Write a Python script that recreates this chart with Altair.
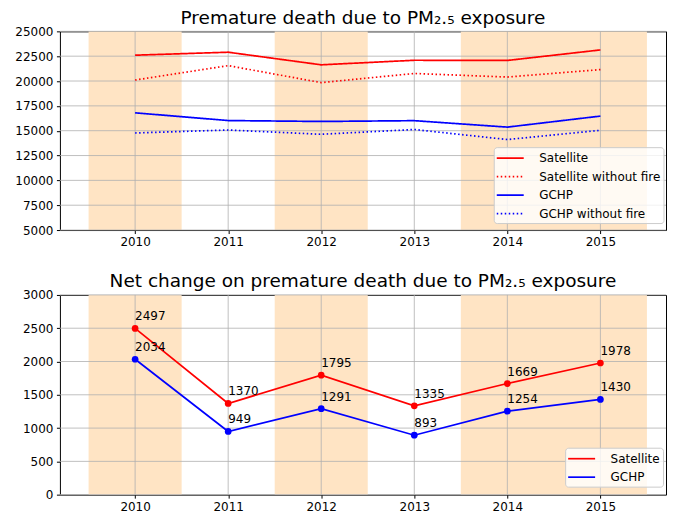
import altair as alt
import pandas as pd

years = [2010, 2011, 2012, 2013, 2014, 2015]
satellite = [22600, 22900, 21630, 22090, 22070, 23130]
satellite_nofire = [20100, 21550, 19840, 20760, 20400, 21150]
gchp = [16800, 16020, 15930, 16010, 15360, 16470]
gchp_nofire = [14770, 15070, 14640, 15120, 14110, 15040]
net_satellite = [2497, 1370, 1795, 1335, 1669, 1978]
net_gchp = [2034, 949, 1291, 893, 1254, 1430]

band_start = [2009.5, 2011.5, 2013.5]
band_end = [2010.5, 2012.5, 2015.5]

top_yticks = [5000, 7500, 10000, 12500, 15000, 17500, 20000, 22500, 25000]
bottom_yticks = [0, 500, 1000, 1500, 2000, 2500, 3000]

top_series = ["Satellite", "Satellite without fire", "GCHP", "GCHP without fire"]
top_colors = ["#ff0000", "#ff0000", "#0000ff", "#0000ff"]
top_dashes = [[1, 0], [1.5, 2.5], [1, 0], [1.5, 2.5]]
bottom_series = ["Satellite", "GCHP"]
bottom_colors = ["#ff0000", "#0000ff"]

FONT = "DejaVu Sans"
W = 607

top_df = pd.DataFrame({
    "year": years * 4,
    "value": satellite + satellite_nofire + gchp + gchp_nofire,
    "series": sum([[s] * len(years) for s in top_series], []),
})
bottom_df = pd.DataFrame({
    "year": years * 2,
    "value": net_satellite + net_gchp,
    "series": sum([[s] * len(years) for s in bottom_series], []),
})
band_df = pd.DataFrame({"start": band_start, "end": band_end})
xtick_df = pd.DataFrame({"v": years})

xscale = alt.Scale(domain=[2009.192, 2015.705], nice=False, zero=False)
xaxis = alt.Axis(values=years, format="d", grid=False, domain=False,
                 tickColor="black", tickSize=3.5, labelPadding=3,
                 labelFontSize=12, labelFont=FONT, labelColor="black",
                 labelFlush=False)


def yaxis(ticks):
    return alt.Axis(values=ticks, format="d", grid=False, domain=False,
                    tickColor="black", tickSize=3.5, labelPadding=3.5,
                    labelFontSize=12, labelFont=FONT, labelColor="black",
                    minExtent=51, maxExtent=51)


def legend(lx, ly):
    return alt.Legend(title=None, orient="none", legendX=lx, legendY=ly,
                      fillColor="rgba(255,255,255,0.8)", strokeColor="#cccccc",
                      cornerRadius=3, padding=3, labelFontSize=12, labelFont=FONT,
                      labelColor="black", symbolType="M-2,0H2", symbolSize=182.25,
                      symbolStrokeWidth=1.7, symbolOffset=5.5, labelOffset=21,
                      rowPadding=4.5, labelLimit=300)


def panel(df, ydomain, yticks, series, colors, dashes, title, points, H, lx, ly):
    X = alt.X("year:Q", scale=xscale, axis=xaxis, title=None)
    Y = alt.Y("value:Q", scale=alt.Scale(domain=ydomain, nice=False, zero=False),
              axis=yaxis(yticks), title=None)
    bands = alt.Chart(band_df).mark_rect(color="#ffe4c4").encode(
        x=alt.X("start:Q", scale=xscale, axis=xaxis, title=None), x2="end:Q")
    xgrid = alt.Chart(xtick_df).mark_rule(color="#b0b0b0", strokeWidth=0.8).encode(
        x=alt.X("v:Q", scale=xscale, axis=xaxis, title=None))
    ygrid = alt.Chart(pd.DataFrame({"t": yticks})).mark_rule(
        color="#b0b0b0", strokeWidth=0.8).encode(
        y=alt.Y("t:Q", scale=alt.Scale(domain=ydomain, nice=False, zero=False),
                axis=yaxis(yticks), title=None))
    color = alt.Color("series:N", scale=alt.Scale(domain=series, range=colors),
                      legend=legend(lx, ly))
    enc = dict(x=X, y=Y, color=color)
    if dashes is not None:
        enc["strokeDash"] = alt.StrokeDash(
            "series:N", scale=alt.Scale(domain=series, range=dashes),
            legend=legend(lx, ly))
    lines = alt.Chart(df).mark_line(strokeWidth=1.7).encode(**enc)
    layers = [bands, xgrid, ygrid, lines]
    if points:
        pts = alt.Chart(df).mark_circle(size=45, opacity=1).encode(
            x=X, y=Y, color=alt.Color("series:N",
                                      scale=alt.Scale(domain=series, range=colors),
                                      legend=None))
        txt = alt.Chart(df).mark_text(align="left", baseline="bottom", dx=0, dy=-5,
                                      fontSize=12, font=FONT, color="black").encode(
            x=X, y=Y, text=alt.Text("value:Q", format="d"))
        layers += [pts, txt]
    return alt.layer(*layers).properties(
        width=W, height=H,
        title=alt.TitleParams(title, fontSize=18.5, font=FONT, fontWeight="normal",
                              color="black", anchor="middle", offset=-4, dy=-2))


top = panel(top_df, [5000, 25000], top_yticks, top_series, top_colors, top_dashes,
            "Premature death due to PM₂.₅ exposure", False, 199, 434.5, 116)
bottom = panel(bottom_df, [0, 3000], bottom_yticks, bottom_series, bottom_colors, None,
               "Net change on premature death due to PM₂.₅ exposure", True, 200, 506, 153)

chart = alt.vconcat(top, bottom, spacing=24).resolve_scale(
    color="independent", strokeDash="independent", y="independent"
).resolve_legend(
    color="independent", strokeDash="independent"
).properties(
    padding={"left": 0, "top": 0, "right": 0, "bottom": 0}
).configure_view(stroke="black", strokeWidth=1).configure_axis(
    grid=False
)

chart.save("out.html", embed_options={"renderer": "svg", "actions": False})
